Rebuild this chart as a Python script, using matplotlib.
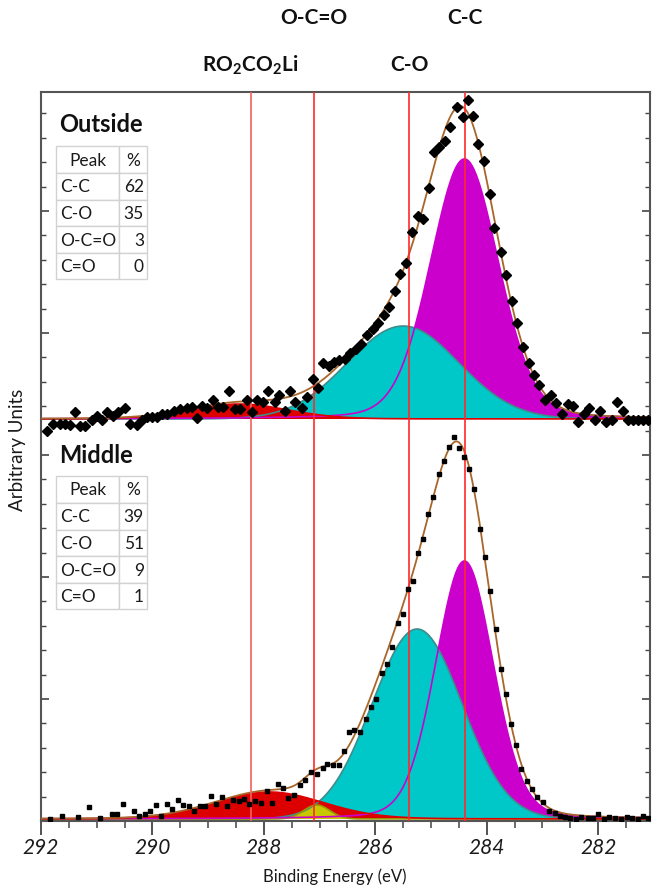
import numpy as np
import matplotlib
matplotlib.use("Agg")
import matplotlib.pyplot as plt
from matplotlib.patches import Rectangle
from matplotlib.ticker import MultipleLocator
from matplotlib.transforms import blended_transform_factory

plt.rcParams['font.family'] = ['Lato', 'DejaVu Sans']
plt.rcParams['mathtext.fontset'] = 'custom'
plt.rcParams['mathtext.bf'] = 'Lato:bold'
plt.rcParams['mathtext.rm'] = 'Lato'

W, H = 652, 887

# measured points: binding energy (eV) and counts above each panel's baseline
outside_energy = [291.90, 291.78, 291.66, 291.57, 291.48, 291.39, 291.30, 291.21, 291.09, 291.00,
                  290.91, 290.82, 290.70, 290.61, 290.49, 290.40, 290.28, 290.19, 290.10, 290.01,
                  289.92, 289.83, 289.74, 289.62, 289.50, 289.38, 289.29, 289.20, 289.11, 289.02,
                  288.92, 288.82, 288.73, 288.62, 288.52, 288.43, 288.31, 288.22, 288.13, 288.01,
                  287.92, 287.80, 287.72, 287.62, 287.53, 287.44, 287.32, 287.23, 287.12, 287.02,
                  286.93, 286.84, 286.75, 286.66, 286.55, 286.45, 286.35, 286.25, 286.15, 286.05,
                  285.95, 285.85, 285.75, 285.65, 285.55, 285.45, 285.34, 285.23, 285.14, 285.03,
                  284.94, 284.85, 284.75, 284.66, 284.53, 284.42, 284.33, 284.24, 284.15, 284.05,
                  283.94, 283.87, 283.74, 283.65, 283.55, 283.45, 283.35, 283.25, 283.15, 283.06,
                  282.95, 282.84, 282.75, 282.65, 282.54, 282.45, 282.36, 282.25, 282.16, 282.05,
                  281.96, 281.86, 281.75, 281.66, 281.55, 281.46, 281.37, 281.28, 281.19, 281.10]
outside_counts = [-12, -5, -5, -5, -6, 7, -7, -7, -1, 3,
                  -1, 7, 3, 7, 11, -5, -6, -1, 2, 2,
                  2, 5, 5, 8, 10, 11, 12, 1, 13, 11,
                  19, 12, 12, 28, 10, 10, 19, 7, 19, 17,
                  28, 17, 24, 8, 28, 17, 11, 22, 40, 31,
                  56, 53, 57, 59, 60, 66, 70, 75, 84, 90,
                  96, 104, 112, 128, 145, 156, 187, 203, 200, 231,
                  267, 272, 278, 292, 312, 302, 319, 303, 275, 258,
                  225, 191, 167, 144, 118, 96, 72, 56, 44, 34,
                  19, 24, 16, 5, 15, 13, -3, 5, 11, -1,
                  8, -3, -1, 17, 8, -1, -1, -1, -1, -1]

middle_energy = [291.84, 291.63, 291.33, 291.13, 290.94, 290.73, 290.63, 290.53, 290.33, 290.24,
                 290.13, 290.04, 289.94, 289.85, 289.74, 289.64, 289.54, 289.45, 289.34, 289.25,
                 289.15, 289.06, 288.95, 288.86, 288.76, 288.66, 288.55, 288.45, 288.36, 288.26,
                 288.16, 288.06, 287.95, 287.85, 287.75, 287.66, 287.56, 287.46, 287.35, 287.26,
                 287.16, 287.05, 286.94, 286.86, 286.76, 286.66, 286.57, 286.47, 286.38, 286.27,
                 286.17, 286.07, 285.98, 285.88, 285.79, 285.70, 285.60, 285.51, 285.42, 285.33,
                 285.23, 285.14, 285.05, 284.96, 284.86, 284.77, 284.68, 284.58, 284.49, 284.40,
                 284.31, 284.22, 284.12, 284.03, 283.94, 283.84, 283.75, 283.66, 283.56, 283.47,
                 283.38, 283.28, 283.19, 283.10, 282.99, 282.89, 282.78, 282.68, 282.59, 282.50,
                 282.40, 282.30, 282.19, 282.09, 282.00, 281.90, 281.80, 281.69, 281.59, 281.49,
                 281.39, 281.29, 281.19, 281.10]
middle_counts = [0, 3, 2, 12, 1, 5, 5, 15, 8, 3,
                 5, 8, 14, 3, 15, 10, 19, 14, 13, 8,
                 13, 13, 23, 15, 22, 13, 19, 18, 20, 15,
                 18, 16, 28, 16, 35, 31, 21, 24, 34, 39,
                 47, 45, 51, 55, 54, 54, 68, 87, 89, 87,
                 100, 112, 120, 146, 155, 172, 196, 205, 230, 238,
                 266, 280, 305, 322, 345, 358, 372, 382, 371, 362,
                 350, 330, 290, 262, 228, 190, 150, 125, 95, 74,
                 50, 38, 30, 22, 17, 8, 6, 3, 2, 1,
                 0, 2, 1, 1, 5, 0, 2, 1, 0, 2,
                 1, 0, 3, 1]

peak_names = ["C-C", "C-O", "O-C=O", "C=O"]
peak_fill = ["#CC00CC", "#00C8C8", "#DD0000", "#C8C800"]
peak_edge = ["#CC00CC", "#3F8C8C", "#DD0000", "#9A9A00"]

# fitted components: centre (eV), height, FWHM (eV), lorentzian share
outside_centre = [284.40, 285.50, 288.45, 287.05]
outside_height = [260, 93, 15, 0]
outside_fwhm = [1.44, 2.35, 2.10, 0.55]
middle_centre = [284.40, 285.25, 287.90, 287.05]
middle_height = [258, 190, 27, 14]
middle_fwhm = [1.22, 1.90, 2.30, 0.55]
lor_share = [0.15, 0.0, 0.1, 0.0]

outside_pct = [62, 35, 3, 0]
middle_pct = [39, 51, 9, 1]

ref_energy = [288.24, 287.10, 285.39, 284.39]
ref_labels = [r"RO$_\mathbf{2}$CO$_\mathbf{2}$Li", "O-C=O", "C-O", "C-C"]
ref_label_y = [65, 18, 65, 18]
ref_colors = ["#F26060", "#FF2A2A", "#FF2A2A", "#FF2A2A"]


def fx(px):
    return px / W


def fy(py):
    return 1 - py / H


def component(x, c, h, w, m):
    d2 = 4 * (x - c) ** 2 / w ** 2
    return h * ((1 - m) * np.exp(-np.log(2) * d2) + m / (1 + d2))


def draw_panel(ax, base, centre, height, fwhm, energy, counts, marker, ms):
    xs = np.linspace(280.5, 292.5, 900)
    comps = [component(xs, centre[i], height[i], fwhm[i], lor_share[i]) for i in range(4)]
    for i in [0, 1, 2, 3]:
        if height[i] > 0:
            ax.fill_between(xs, base, base + comps[i], color=peak_fill[i], lw=0, zorder=1)
    for i in [1, 3, 0, 2]:
        if height[i] > 0:
            ax.plot(xs, base + comps[i], color=peak_edge[i], lw=1.2, zorder=2)
    ax.plot(xs, base + sum(comps), color="#A8662A", lw=1.3, zorder=3)
    ax.plot(energy, np.array(counts) + base, marker, color="black", ms=ms, lw=0, zorder=5)


def draw_table(fig, title, title_base, top, pct):
    fig.text(fx(59), fy(title_base), title, fontsize=17, fontweight="bold",
             va="baseline", ha="left", color="#111111")
    edges = top + np.array([0, 27, 54, 80, 107, 133])
    left, mid, right = 56, 119, 147
    for r in range(5):
        for (a, b) in [(left, mid), (mid, right)]:
            fig.add_artist(Rectangle((fx(a), fy(edges[r + 1])), (b - a) / W,
                                     (edges[r + 1] - edges[r]) / H,
                                     transform=fig.transFigure, facecolor="white",
                                     edgecolor="#D2D2D2", lw=1.0))
    kw = dict(fontsize=12.5, va="center", color="#1A1A1A")
    yc = (edges[0] + edges[1]) / 2
    fig.text(fx((left + mid) / 2), fy(yc), "Peak", ha="center", **kw)
    fig.text(fx((mid + right) / 2), fy(yc), "%", ha="center", **kw)
    for r in range(4):
        yc = (edges[r + 1] + edges[r + 2]) / 2
        fig.text(fx(60), fy(yc), peak_names[r], ha="left", **kw)
        fig.text(fx(144), fy(yc), str(pct[r]), ha="right", **kw)


fig = plt.figure(figsize=(W / 100, H / 100), dpi=100)
ax = fig.add_axes([fx(41), fy(822), fx(650) - fx(41), fy(93) - fy(822)])

draw_panel(ax, 402, outside_centre, outside_height, outside_fwhm,
           outside_energy, outside_counts, "D", 4.6)
draw_panel(ax, 2, middle_centre, middle_height, middle_fwhm,
           middle_energy, middle_counts, "s", 3.3)

trans = blended_transform_factory(ax.transData, fig.transFigure)
for e, lab, ly, col in zip(ref_energy, ref_labels, ref_label_y, ref_colors):
    ax.axvline(e, color=col, lw=1.2, zorder=4)
    ax.text(e, fy(ly), lab, transform=trans, ha="center", va="center",
            fontsize=15, fontweight="bold", color="#111111")

ax.set_xlim(292, 281.07)
ax.set_ylim(0, 729)
ax.xaxis.set_major_locator(MultipleLocator(2))
ax.xaxis.set_minor_locator(MultipleLocator(0.5))
ax.yaxis.set_major_locator(MultipleLocator(122))
ax.yaxis.set_minor_locator(MultipleLocator(24.4))
ax.tick_params(axis="x", which="major", direction="out", length=10, width=1.3,
               color="#444444", labelsize=15, pad=1.5, labelcolor="#1A1A1A")
ax.tick_params(axis="x", which="minor", direction="out", length=5, width=1.1, color="#444444")
ax.tick_params(axis="y", which="both", direction="in", left=True, right=True,
               labelleft=False, color="#444444")
ax.tick_params(axis="y", which="major", length=6, width=1.2)
ax.tick_params(axis="y", which="minor", length=3.5, width=1.0)
for lab in ax.get_xticklabels():
    lab.set_fontstyle("italic")
for s in ax.spines.values():
    s.set_color("#555555")
    s.set_linewidth(1.5)

draw_table(fig, "Outside", 132, 147, outside_pct)
draw_table(fig, "Middle", 463, 477, middle_pct)

fig.text(fx(18), fy(450), "Arbitrary Units", rotation=90, ha="center", va="center",
         fontsize=13.5, color="#1A1A1A")
fig.text(fx(335), fy(877), "Binding Energy (eV)", ha="center", va="center",
         fontsize=12, color="#1A1A1A")

fig.savefig("out.png", dpi=100)
